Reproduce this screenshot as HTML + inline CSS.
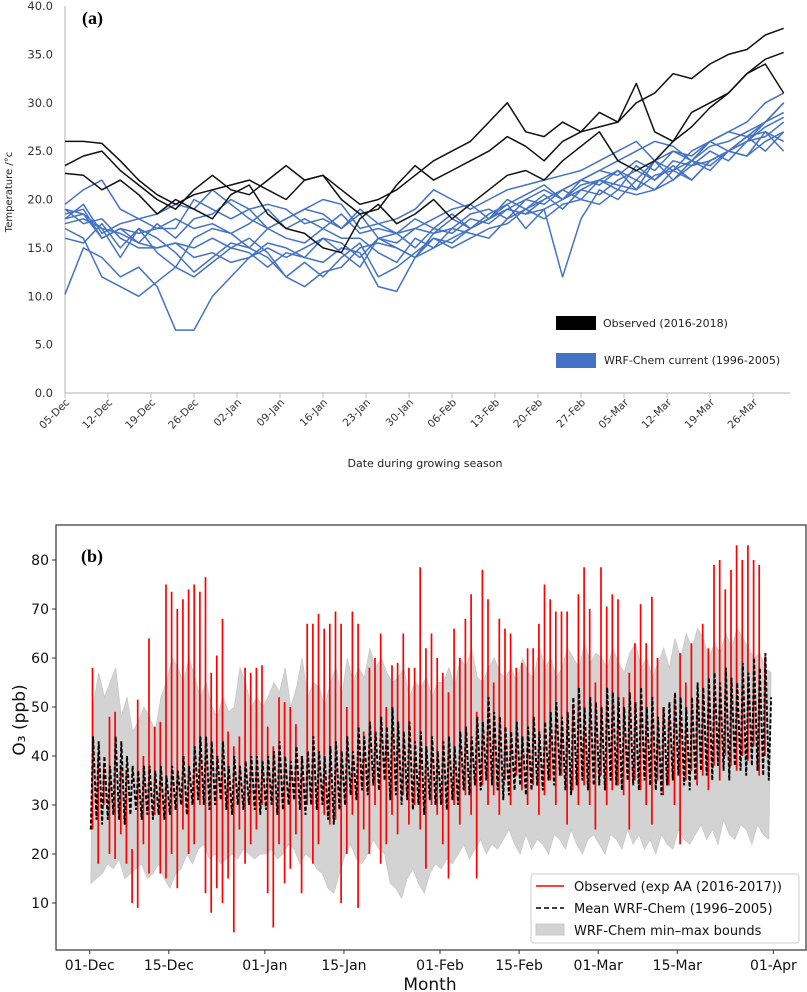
<!DOCTYPE html>
<html><head><meta charset="utf-8"><style>
html,body{margin:0;padding:0;background:#fff;width:807px;height:992px;overflow:hidden}
svg{display:block}
</style></head><body>
<svg id="fig" width="807" height="992" viewBox="0 0 807 992" xmlns="http://www.w3.org/2000/svg">
<g id="top"></g>
<g id="bot"></g>
</svg>
<script>
// ---------- Panel (a) data: values every 3 days from 05-Dec ----------
const aTickLabels = ["05-Dec","12-Dec","19-Dec","26-Dec","02-Jan","09-Jan","16-Jan","23-Jan","30-Jan","06-Feb","13-Feb","20-Feb","27-Feb","05-Mar","12-Mar","19-Mar","26-Mar"];
const aYTicks = [0,5,10,15,20,25,30,35,40];
const aStepDays = 3;
const obs1 = [26,26,25.8,24,22,20.5,19.5,20.5,21,21.5,22,21,20,22,22.5,21,19.5,20,21,22.5,24,25,26,28,30,27,26.5,28,27,29,28,30,31,33,32.5,34,35,35.5,37,37.7];
const obs2 = [23.5,24.5,25,23,21.5,20,19,21,22.5,21,20.5,22,23.5,22,22.5,20,18.5,19,21.5,23.5,22,23,24,25,26.5,25.5,24,26,27,27.5,28,32,27,26,27.5,29.5,31,33,34.5,35.2];
const obs3 = [22.7,22.5,21,22,20.5,18.5,20,19,18,20.5,21.5,18.5,17,16.5,15,14.5,18,19.5,17.5,18.5,20,18,19.5,21,22.5,23,22,24,25.5,27,24,23,24,26,29,30,31,33,34,31];
const wrf1 = [19.5,21,22,19,18,18.5,19.5,19,21,19.5,18,17,18,19,20,19.5,17,17.5,18,19,21,20,19,20,21,21.5,22,22.5,23,24,25,26,24,25,24.5,26,27,28,30,31];
const wrf2 = [10.2,15,14,12,13,11,6.5,6.5,10,12,14,15.5,15,14,13.5,15,14.5,11,10.5,14,15,16,17,18,19.5,17,19,12,18,21,20,22,21,23,24,23.5,25,26,28,30];
const wrf3 = [17.5,18,17,16.5,15.5,15,15.5,15,16,15,14.5,13,14.5,14,16,15.5,14,16,15,14,16.5,17,18.5,19,18,20,19.5,21,22,21.5,23,22,24,23,25,26,25,26.5,27,25];
const wrf4 = [18.5,19,16,17,16.5,17,18,17,17.5,16.5,17.5,19,17,18,17,18.5,16.5,17,16.5,18,17,18.5,17,18,19,20,21,20,21.5,22,21,23.5,22,24,23.5,25,24,26,26.5,28];
const wrf5 = [16,15.5,17.5,15,17,14.5,13,12,13.5,15,16,14.5,12,13.5,12,14,15.5,12,13,14.5,16,15,16,17,17.5,19,18,19.5,20,19.5,21,20.5,21,22,23.5,24,25,26.5,25,27];
const wrf6 = [19,18.5,17,14,17,16,14.5,12.5,14,15.5,15,17,16,15.5,17,16,16,14.5,13.5,16,15,17,16.5,16,18,19,20,21,22,23,22.5,24,23,25,24,25.5,26,27,28,29];
const wrf7 = [18,19.5,16.5,17.5,18,17,17,20,19,18,19,17,18,19,18.5,17,19,17.5,16.5,17,18,19,19.5,18,20,19,20.5,19,21,22,23,21,24,22,24,23,25,24.5,27,26];
const wrf8 = [19,17.5,18,16,15,15,15.5,14,14.5,13.5,14,15,14,15,16,14.5,13,16,16.5,15,17,16.5,18,17.5,19,18.5,20,21,20,22,21.5,21,22.5,23,22,24,25,24.5,26,27];
const wrf9 = [18,18.5,16,17,15.5,17.5,16,18,18.5,20,19,19.5,19,17.5,18,17,18.5,16,15.5,17,16.5,18,17,18.5,19.5,20.5,21.5,20,22,23,24,25,26,25.5,24,26,27,26.5,28,30];
const wrf10 = [17,16,12,11,10,11.5,13,16,17,16.5,15,14,12,11,12.5,13,15,15.5,15,14,16,15.5,17,18,19,18.5,19,20,21,20.5,22,23,22,23.5,22,24,25,26,27.5,28.5];

// ---------- Panel (b) data: daily values from 01-Dec ----------
const bTickLabels = ["01-Dec","15-Dec","01-Jan","15-Jan","01-Feb","15-Feb","01-Mar","15-Mar","01-Apr"];
const bTickDays = [0,14,31,45,62,76,90,104,121];
const bYTicks = [10,20,30,40,50,60,70,80];
const obsPeak = [58,40,38,48,49,38,37,21,51.5,40,64,46,47,75,73.5,70,72,74,75,73.5,76.5,57,60.5,68,45,42,44,58,57,58,58.5,46,42,52,51,50,46.5,40,67,67,69,66,67,69.5,67,50,69.5,67,45,58,60,65,50,58.5,59,65,58,58,78.5,62,65,60,57,53,66,60,68,73,49,78,72,55,68,66,65,58,59,62,62,67,75,72,69.5,69.5,69.5,50,73,78.5,70,55,78.5,70.5,73,72,52,57,63,71,63,72.5,60,50,48,52,61,55,63,52,67,62,79,80,74,78,83,80,83,80,79,60,45];
const obsLow = [25,18,30,20,19,24,18,10,9,22,16,28,16,15,20,13,25,20,22,30,12,8,13,10,15,4,25,18,22,25,30,12,5,22,14,17,24,12,30,18,22,28,26,27,10,20,28,9,25,20,30,18,22,28,24,32,26,30,25,17,30,28,22,15,30,26,32,28,15,34,30,32,28,35,30,36,33,30,34,28,32,35,30,36,26,33,30,34,30,25,36,30,33,34,32,25,35,33,30,26,35,32,34,30,22,35,37,34,36,33,38,35,40,38,37,40,39,42,36,40,45];
const meanPeak = [44,43,40,38,44,43,40,38,37,38,38,37,38,36,38,37,40,38,42,44,44,43,40,43,38,40,38,39,40,40,39,40,41,43,40,39,42,40,41,44,41,40,42,43,41,44,41,46,44,47,45,48,46,50,47,45,47,43,45,42,44,41,43,44,42,45,46,44,48,47,52,49,48,46,45,47,44,46,48,45,47,49,51,48,49,52,54,50,52,51,50,54,53,52,50,53,51,54,50,52,48,50,51,53,52,50,52,55,54,56,57,55,58,56,55,59,57,60,58,61,52];
const meanLow = [25,27,26,27,28,27,26,28,29,27,28,27,28,27,28,29,30,28,30,31,30,29,30,31,29,28,30,29,30,29,28,29,30,28,29,30,31,29,28,30,29,30,27,26,29,30,32,31,33,32,34,33,35,31,32,30,31,29,30,28,31,30,30,29,31,30,33,32,34,33,35,34,33,31,32,33,34,32,33,34,33,35,34,36,33,32,34,35,33,34,34,33,35,34,33,35,34,33,35,34,33,32,34,35,36,34,33,35,37,36,35,38,37,35,38,37,36,38,37,36,35];
const bandMax = [50,57,52,55,58,48,52,45,47,50,48,45,52,55,60,58,55,60,56,52,55,50,48,52,49,50,58,55,50,52,50,52,55,53,58,50,54,60,52,55,54,50,55,58,52,60,55,58,56,62,58,60,57,55,56,58,52,55,54,56,52,55,55,58,54,60,58,62,56,55,58,60,57,56,58,55,60,57,56,62,58,60,56,58,62,60,58,63,59,61,60,58,62,59,57,61,63,58,60,56,59,62,58,64,60,65,62,66,64,60,63,61,65,62,66,64,62,60,61,58,57];
const bandMin = [14,15,16,18,17,19,15,16,17,18,15,16,18,15,13,16,17,20,18,21,22,19,20,18,19,20,19,21,20,19,20,20,21,19,20,22,21,18,20,19,17,16,13,12,16,20,22,19,18,20,23,21,20,14,13,11,15,17,14,12,16,18,17,19,18,20,22,19,21,23,20,22,21,23,25,22,20,24,21,23,22,20,24,23,21,25,22,20,23,24,22,20,24,23,21,25,22,24,21,23,20,24,22,21,25,23,22,24,26,23,25,22,27,24,23,26,25,22,26,24,23];

const NS="http://www.w3.org/2000/svg";
function mk(parent,tag,attrs,text){const e=document.createElementNS(NS,tag);for(const k in attrs)e.setAttribute(k,attrs[k]);if(text!==undefined)e.textContent=text;parent.appendChild(e);return e;}

// ---------- Panel (a) ----------
(function(){
  const g=document.getElementById('top');
  const x0=65, pxDay=43/7, y0=393, pxUnit=9.675;
  const X=d=>x0+d*pxDay, Y=v=>y0-v*pxUnit;
  const font='"DejaVu Sans", "Liberation Sans", sans-serif';
  let e=mk(g,'line',{x1:x0,y1:6,x2:x0,y2:y0,stroke:'#bfbfbf','stroke-width':1.2});
  
  
  e=mk(g,'line',{x1:x0,y1:y0,x2:790,y2:y0,stroke:'#bfbfbf','stroke-width':1.2});
  
  
  aYTicks.forEach(v=>{
    const t=mk(g,'text',{x:53,y:Y(v)+4,'text-anchor':'end','font-family':font,'font-size':11.5,fill:'#333'},v.toFixed(1));
    
    
  });
  aTickLabels.forEach((lab,i)=>{
    const x=X(i*7);
    const tk=mk(g,'line',{x1:x,y1:y0,x2:x,y2:y0+5,stroke:'#bfbfbf','stroke-width':1});
    
    
    const t=mk(g,'text',{x:x+5,y:y0+10,'text-anchor':'end','font-family':font,'font-size':10.5,fill:'#333',transform:`rotate(-45 ${x+5} ${y0+10})`},lab);
    
    
  });
  e=mk(g,'text',{x:0,y:0,'text-anchor':'middle','font-family':font,'font-size':10,fill:'#222',transform:'translate(12 192) rotate(-90)'},'Temperature /°c');
  
  
  e=mk(g,'text',{x:425,y:467,'text-anchor':'middle','font-family':font,'font-size':11,fill:'#222'},'Date during growing season');
  
  
  e=mk(g,'text',{x:82,y:24,'font-family':'"Liberation Serif", serif','font-size':18,'font-weight':'bold',fill:'#000'},'(a)');
  
  
  const line=(arr,col,name)=>{
    const d=arr.map((v,i)=>(i?'L':'M')+X(i*aStepDays).toFixed(1)+' '+Y(v).toFixed(1)).join(' ');
    const p=mk(g,'path',{d:d,fill:'none',stroke:col,'stroke-width':1.5,'stroke-linejoin':'round'});
    
    
  };
  [wrf1,wrf2,wrf3,wrf4,wrf5,wrf6,wrf7,wrf8,wrf9,wrf10].forEach((s,i)=>line(s,'#4472c4','wrf-chem-line-'+(i+1)));
  [obs1,obs2,obs3].forEach((s,i)=>line(s,'#111','observed-line-'+(i+1)));
  e=mk(g,'rect',{x:556,y:316,width:40,height:14,fill:'#000'});
  
  
  e=mk(g,'text',{x:603,y:327,'font-family':font,'font-size':11,fill:'#222'},'Observed (2016-2018)');
  
  
  e=mk(g,'rect',{x:556,y:353,width:40,height:15,fill:'#4472c4'});
  
  
  e=mk(g,'text',{x:604,y:364,'font-family':font,'font-size':11,fill:'#222'},'WRF-Chem current (1996-2005)');
  
  
})();

// ---------- Panel (b) ----------
(function(){
  const g=document.getElementById('bot');
  const L=56,T=525,R=806,B=950;
  const x0=89.7, pxDay=5.65, y0=952, pxUnit=4.9;
  const X=d=>x0+d*pxDay, Y=v=>y0-v*pxUnit;
  const font='"DejaVu Sans", "Liberation Sans", sans-serif';
  const clip=mk(g,'clipPath',{id:'bclip'});
  mk(clip,'rect',{x:L,y:T,width:R-L,height:B-T});
  const plot=mk(g,'g',{'clip-path':'url(#bclip)'});
  
  
  let up=bandMax.map((v,i)=>X(i+0.6).toFixed(1)+','+Y(v).toFixed(1));
  let lo=bandMin.map((v,i)=>X(i+0.2).toFixed(1)+','+Y(v).toFixed(1)).reverse();
  let e=mk(plot,'polygon',{points:up.concat(lo).join(' '),fill:'#d3d3d3',stroke:'#c8c8c8','stroke-width':0.8});
  
  
  // observed: near-vertical daily spikes from daily min to daily max
  const spikes=obsLow.map((v,i)=>'M'+X(i+0.5).toFixed(1)+' '+Y(v).toFixed(1)+' L'+X(i+0.5).toFixed(1)+' '+Y(obsPeak[i]).toFixed(1)).join(' ');
  e=mk(plot,'path',{d:spikes,fill:'none',stroke:'#ff0000','stroke-width':1.7});
  
  
  const zig=(lows,peaks)=>lows.map((v,i)=>(i?'L':'M')+X(i+0.2).toFixed(1)+' '+Y(v).toFixed(1)+' L'+X(i+0.6).toFixed(1)+' '+Y(peaks[i]).toFixed(1)).join(' ');
  e=mk(plot,'path',{d:zig(meanLow,meanPeak),fill:'none',stroke:'#000','stroke-width':1.9,'stroke-dasharray':'4 2'});
  
  
  e=mk(g,'rect',{x:L,y:T,width:R-L,height:B-T,fill:'none',stroke:'#333','stroke-width':1.2});
  
  
  bYTicks.forEach(v=>{
    const y=Y(v);
    const tk=mk(g,'line',{x1:L-4,y1:y,x2:L,y2:y,stroke:'#333','stroke-width':1});
    
    
    const t=mk(g,'text',{x:L-7,y:y+5,'text-anchor':'end','font-family':font,'font-size':14,fill:'#111'},String(v));
    
    
  });
  bTickLabels.forEach((lab,i)=>{
    const x=X(bTickDays[i]);
    const tk=mk(g,'line',{x1:x,y1:B,x2:x,y2:B+4,stroke:'#333','stroke-width':1});
    
    
    const t=mk(g,'text',{x:x,y:B+20,'text-anchor':'middle','font-family':font,'font-size':14,fill:'#111'},lab);
    
    
  });
  e=mk(g,'text',{x:0,y:0,'text-anchor':'middle','font-family':font,'font-size':17,fill:'#111',transform:'translate(25 720) rotate(-90)'},'O₃ (ppb)');
  
  
  e=mk(g,'text',{x:430,y:990,'text-anchor':'middle','font-family':font,'font-size':17,fill:'#111'},'Month');
  
  
  e=mk(g,'text',{x:81,y:562,'font-family':'"Liberation Serif", serif','font-size':18,'font-weight':'bold',fill:'#000'},'(b)');
  
  
  const lg=mk(g,'g',{});
  
  
  mk(lg,'rect',{x:531,y:874,width:268,height:69,rx:3,fill:'#fff','fill-opacity':0.85,stroke:'#ccc','stroke-width':1});
  const items=[['Observed (exp AA (2016-2017))','red'],['Mean WRF-Chem (1996–2005)','dash'],['WRF-Chem min–max bounds','band']];
  items.forEach((it,i)=>{
    const y=886+i*22;
    let s;
    if(it[1]==='red') s=mk(lg,'line',{x1:536,y1:y,x2:564,y2:y,stroke:'#ff0000','stroke-width':1.6});
    else if(it[1]==='dash') s=mk(lg,'line',{x1:536,y1:y,x2:564,y2:y,stroke:'#000','stroke-width':1.6,'stroke-dasharray':'5 3'});
    else s=mk(lg,'rect',{x:536,y:y-6,width:28,height:11,fill:'#d3d3d3',stroke:'#c8c8c8'});
    
    
    const t=mk(lg,'text',{x:574,y:y+5,'font-family':font,'font-size':13,fill:'#111'},it[0]);
    
    
  });
})();
</script>
</body></html>
